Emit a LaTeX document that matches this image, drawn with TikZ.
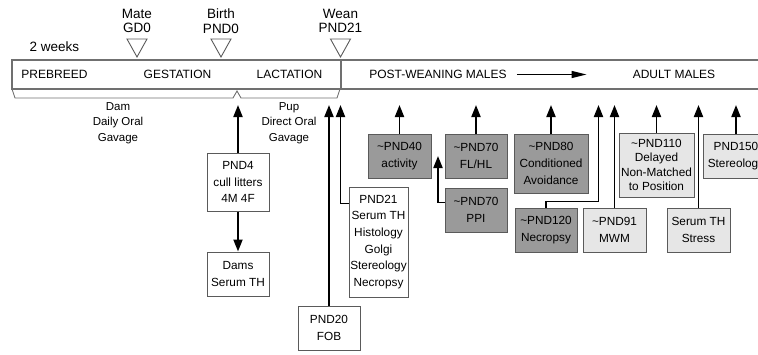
\documentclass[tikz,border=0pt]{standalone}
\usepackage{fontspec}
\setmainfont{Liberation Sans}
\usetikzlibrary{arrows.meta,positioning,calc}
\definecolor{boxdark}{HTML}{9a9a9a}
\definecolor{boxlight}{HTML}{e6e6e6}
\definecolor{edgegray}{HTML}{5a5a5a}
\definecolor{bargray}{HTML}{707070}

\tikzset{
  stage/.style={font=\fontsize{12}{14}\selectfont, inner sep=0pt},
  event/.style={font=\fontsize{13.5}{14.5}\selectfont, align=center, inner sep=0pt},
  treat/.style={font=\fontsize{11.5}{15.7}\selectfont, align=center, inner sep=0pt},
  assay/.style={draw=edgegray, line width=1pt, align=center, inner sep=0pt,
    font=\fontsize{11.8}{16.7}\selectfont, minimum height=44pt},
  dark/.style={assay, fill=boxdark},
  light/.style={assay, fill=boxlight},
  plain/.style={assay, fill=white},
  link/.style={line width=1.9pt},
  uparrow/.style={link, -{Triangle[width=9pt,length=12pt]}},
}

\begin{document}
\begin{tikzpicture}[x=1pt, y=-1pt]
  \useasboundingbox (0,0) rectangle (758,354);
  \clip (0,0) rectangle (758,354);

  % timeline bar (runs off the right edge)
  \draw[bargray, line width=1.1pt] (770,60) -- (12,60) -- (12,89) -- (770,89);
  \draw[bargray, line width=1.1pt] (341,60) -- (341,89);
  \node[stage] (prebreed) at (54.5,74.5) {PREBREED};
  \node[stage] (gest) at (177.5,74.5) {GESTATION};
  \node[stage] (lact) at (289.5,74.5) {LACTATION};
  \node[stage] (postw) at (438,74.5) {POST-WEANING MALES};
  \node[stage] (adult) at (674,74.5) {ADULT MALES};
  \draw[line width=1.5pt, -{Triangle[width=7pt,length=15pt]}, shorten <=10pt, shorten >=46pt] (postw.east) -- (adult.west);

  % markers above the bar
  \node[event] (twowk) at (54.5,46.5) {2 weeks};
  \foreach \nm/\x/\a/\b in {mate/137/Mate/GD0, birth/221/Birth/PND0, wean/340.5/Wean/PND21} {
    \node[event] (\nm) at (\x,21) {\a\\\b};
    \draw[edgegray, line width=0.9pt] (\x-10,39) -- (\x+10,39) -- (\x,57) -- cycle;
  }

  % dosing braces
  \draw[bargray, line width=0.9pt] (12,89) -- (15,98) -- (233,98) -- (237,91) -- (241,98) -- (337,98) -- (340,89);
  \node[treat] (dam) at (118,123) {Dam\\Daily Oral\\Gavage};
  \node[treat] (pup) at (289,123) {Pup\\Direct Oral\\Gavage};

  % assay boxes
  \node[plain, minimum width=62pt, minimum height=58pt] (pnd4) at (238,182) {PND4\\cull litters\\4M 4F};
  \node[plain, minimum width=62pt] (dams) at (238,274) {Dams\\Serum TH};
  \node[plain, minimum width=62pt] (pnd20) at (329,328) {PND20\\FOB};
  \node[plain, minimum width=59pt, minimum height=110pt] (pnd21) at (378.5,242) {PND21\\Serum TH\\Histology\\Golgi\\Stereology\\Necropsy};
  \node[dark, minimum width=63pt] (pnd40) at (399.5,156) {\textasciitilde PND40\\activity};
  \node[dark, minimum width=62pt] (flhl) at (476,156) {\textasciitilde PND70\\FL/HL};
  \node[dark, minimum width=62pt] (ppi) at (476,210) {\textasciitilde PND70\\PPI};
  \node[dark, minimum width=74pt, minimum height=59pt] (pnd80) at (551,163.5) {\textasciitilde PND80\\Conditioned\\Avoidance};
  \node[dark, minimum width=62pt] (pnd120) at (546,230) {\textasciitilde PND120\\Necropsy};
  \node[light, minimum width=63pt] (pnd91) at (614.5,230) {\textasciitilde PND91\\MWM};
  \node[light, minimum width=75pt, minimum height=64pt, font=\fontsize{11.8}{14.5}\selectfont] (pnd110) at (656.5,165) {\textasciitilde PND110\\Delayed\\Non-Matched\\to Position};
  \node[light, minimum width=63pt] (stress) at (698.5,230) {Serum TH\\Stress};
  \node[light, minimum width=66pt] (pnd150) at (736,156) {PND150\\Stereology};

  % arrows up to the bar
  \coordinate (top) at (0,105);
  \draw[uparrow] (pnd4.north) -- (pnd4.north |- top);
  \draw[uparrow] (pnd4.south) -- (dams.north);
  \draw[uparrow] (pnd20.north) -- (pnd20.north |- top);
  \draw[uparrow] ([yshift=-17pt]pnd21.north west) -| (wean |- top);
  \foreach \n in {pnd40, flhl, pnd80, pnd91, pnd110, stress, pnd150}
    \draw[uparrow] (\n.north) -- (\n.north |- top);
  \draw[uparrow] ([yshift=-15pt]ppi.north west) -| ($(pnd40.east)!0.5!(flhl.west)$ |- top);
  \draw[uparrow] (pnd120.north) -- ++(0,-6) -| ([xshift=10pt]pnd80.east |- top);
\end{tikzpicture}
\end{document}
